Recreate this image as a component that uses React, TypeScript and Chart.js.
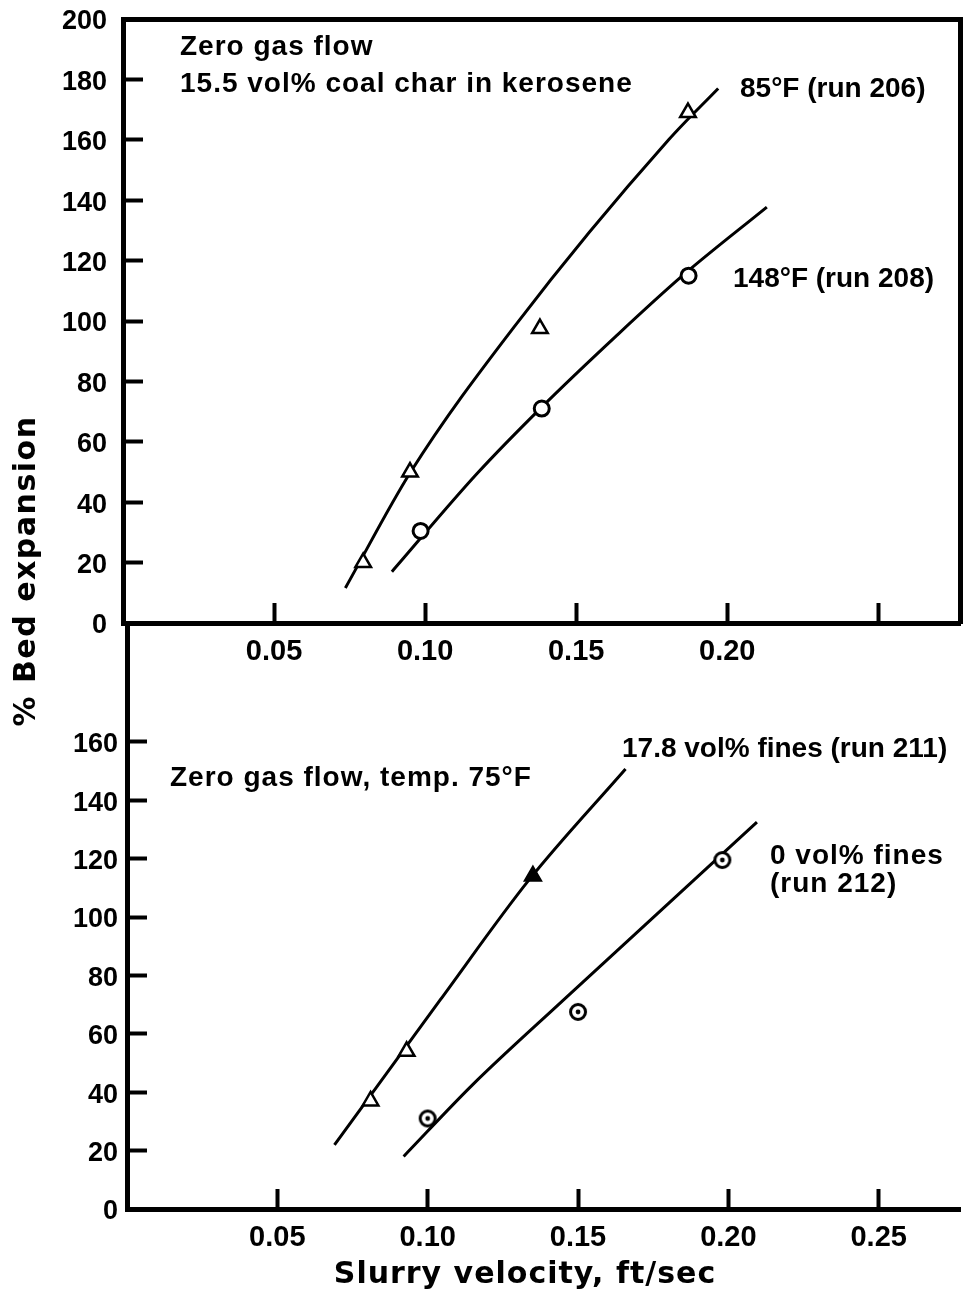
import React, { useEffect, useRef } from 'react';
import { Chart, registerables } from 'chart.js';

Chart.register(...registerables);

// ---- Axis ticks -----------------------------------------------------------
const xTickValues = [0.05, 0.1, 0.15, 0.2, 0.25];
const topXTickLabels = ['0.05', '0.10', '0.15', '0.20', ''];
const bottomXTickLabels = ['0.05', '0.10', '0.15', '0.20', '0.25'];
const topYTickValues = [0, 20, 40, 60, 80, 100, 120, 140, 160, 180, 200];
const bottomYTickValues = [0, 20, 40, 60, 80, 100, 120, 140, 160];

// ---- Upper panel: 15.5 vol% coal char in kerosene, zero gas flow ----------
// 85°F (run 206): measured points and fitted curve
const run206Velocity = [0.0795, 0.095, 0.138, 0.187];
const run206Expansion = [20, 50, 97.5, 169];
const run206CurveVelocity = [0.0736, 0.0952, 0.1294, 0.1806, 0.197];
const run206CurveExpansion = [11.6, 50, 98, 160, 177];

// 148°F (run 208)
const run208Velocity = [0.0985, 0.1386, 0.1872];
const run208Expansion = [30.5, 71, 115];
const run208CurveVelocity = [0.089, 0.1172, 0.1386, 0.1632, 0.1852, 0.2131];
const run208CurveExpansion = [17, 49.5, 71.5, 95, 115, 137.7];

// ---- Lower panel: zero gas flow, 75°F ------------------------------------
// 17.8 vol% fines (run 211)
const run211Velocity = [0.081, 0.093, 0.135];
const run211Expansion = [37, 54, 114];
const run211Filled = [false, false, true];
const run211CurveVelocity = [0.069, 0.1041, 0.1337, 0.1658];
const run211CurveExpansion = [22, 71.5, 112.7, 150.7];

// 0 vol% fines (run 212)
const run212Velocity = [0.1, 0.15, 0.198];
const run212Expansion = [31, 67.5, 119.5];
const run212CurveVelocity = [0.092, 0.1149, 0.1452, 0.2095];
const run212CurveExpansion = [18, 42.5, 71.6, 132.5];

// ---- Text ----------------------------------------------------------------
const yAxisTitle = '% Bed expansion';
const xAxisTitle = 'Slurry velocity, ft/sec';
const topCaption = ['Zero gas flow', '15.5 vol% coal char in kerosene'];
const run206Label = '85°F (run 206)';
const run208Label = '148°F (run 208)';
const bottomCaption = 'Zero gas flow, temp. 75°F';
const run211Label = '17.8 vol% fines (run 211)';
const run212Label = ['0 vol% fines', '(run 212)'];

// ---- Layout / style --------------------------------------------------------
const PAGE_W = 972;
const PAGE_H = 1297;
const X_MAX = 0.2772;
const INK = '#000';
const HELV = '"Liberation Sans", Arial, Helvetica, sans-serif';
const WIDE = '"DejaVu Sans", Verdana, sans-serif';
const NOTE_FONT = `bold 28px ${HELV}`;
const TITLE_FONT = `bold 30px ${WIDE}`;

type Note = {
  text: string;
  x: number;
  y: number;
  font: string;
  spacing?: number;
  align?: CanvasTextAlign;
  rotate?: number;
};

const topNotes: Note[] = [
  { text: topCaption[0], x: 180, y: 55, font: NOTE_FONT, spacing: 1 },
  { text: topCaption[1], x: 180, y: 92, font: NOTE_FONT, spacing: 1 },
  { text: run206Label, x: 740, y: 97, font: NOTE_FONT },
  { text: run208Label, x: 733, y: 287, font: NOTE_FONT },
  { text: yAxisTitle, x: 35, y: 571, font: TITLE_FONT, spacing: 1.5, align: 'center', rotate: -Math.PI / 2 },
];

const bottomNotes: Note[] = [
  { text: bottomCaption, x: 170, y: 786, font: NOTE_FONT, spacing: 1 },
  { text: run211Label, x: 622, y: 757, font: NOTE_FONT },
  { text: run212Label[0], x: 770, y: 864, font: NOTE_FONT, spacing: 1 },
  { text: run212Label[1], x: 770, y: 892, font: NOTE_FONT, spacing: 1 },
  { text: xAxisTitle, x: 525, y: 1283, font: TITLE_FONT, spacing: 1, align: 'center' },
];

function notesPlugin(id: string, notes: Note[]) {
  return {
    id,
    afterDraw(chart: Chart) {
      const ctx = chart.ctx;
      ctx.save();
      ctx.fillStyle = INK;
      ctx.textBaseline = 'alphabetic';
      for (const n of notes) {
        ctx.font = n.font;
        (ctx as any).letterSpacing = `${n.spacing ?? 0}px`;
        ctx.textAlign = n.align ?? 'left';
        if (n.rotate) {
          ctx.save();
          ctx.translate(n.x, n.y);
          ctx.rotate(n.rotate);
          ctx.fillText(n.text, 0, 0);
          ctx.restore();
        } else {
          ctx.fillText(n.text, n.x, n.y);
        }
      }
      (ctx as any).letterSpacing = '0px';
      ctx.restore();
    },
  };
}

function points(xs: number[], ys: number[]) {
  return xs.map((x, i) => ({ x, y: ys[i] }));
}

function dottedCircle(): HTMLCanvasElement {
  const c = document.createElement('canvas');
  c.width = 22;
  c.height = 22;
  const g = c.getContext('2d')!;
  g.beginPath();
  g.arc(11, 11, 7.5, 0, Math.PI * 2);
  g.fillStyle = '#fff';
  g.fill();
  g.lineWidth = 3;
  g.strokeStyle = INK;
  g.stroke();
  g.beginPath();
  g.arc(11, 11, 2.4, 0, Math.PI * 2);
  g.fillStyle = INK;
  g.fill();
  return c;
}

const tickGrid = {
  display: true,
  drawOnChartArea: false,
  drawTicks: true,
  tickLength: -20,
  tickWidth: 4,
  tickColor: INK,
  color: INK,
};
const axisBorder = { display: true, width: 5, color: INK };
const frameGrid = { display: true, drawOnChartArea: false, drawTicks: false };

// Fixed axis sizes so the plot areas sit where the layout wants them; the
// label paddings are cleared so they do not push the plot area inwards.
function fixSize(size: number) {
  return (s: any) => {
    if (s.isHorizontal()) s.height = size;
    else s.width = size;
    s.paddingTop = 0;
    s.paddingBottom = 0;
    s.paddingLeft = 0;
    s.paddingRight = 0;
  };
}

function xAxis(labels: string[], height: number) {
  return {
    type: 'linear' as const,
    position: 'bottom' as const,
    min: 0,
    max: X_MAX,
    afterBuildTicks: (s: any) => {
      s.ticks = xTickValues.map((v) => ({ value: v }));
    },
    afterFit: fixSize(height),
    ticks: {
      callback: (_v: any, i: number) => labels[i],
      font: { family: HELV, size: 29, weight: 'bold' as const },
      color: INK,
      padding: 32,
      maxRotation: 0,
      autoSkip: false,
    },
    grid: tickGrid,
    border: axisBorder,
  };
}

function yAxis(values: number[], max: number, width: number, padding: number) {
  return {
    type: 'linear' as const,
    position: 'left' as const,
    min: 0,
    max,
    afterBuildTicks: (s: any) => {
      s.ticks = values.map((v) => ({ value: v }));
    },
    afterFit: fixSize(width),
    ticks: {
      callback: (v: any) => String(v),
      font: { family: HELV, size: 27, weight: 'bold' as const },
      color: INK,
      padding,
      labelOffset: 3,
      autoSkip: false,
    },
    grid: tickGrid,
    border: axisBorder,
  };
}

function curve(xs: number[], ys: number[]) {
  return {
    data: points(xs, ys),
    showLine: true,
    pointRadius: 0,
    borderColor: INK,
    borderWidth: 3,
    cubicInterpolationMode: 'monotone' as const,
  };
}

function topConfig(): any {
  return {
    type: 'scatter',
    data: {
      datasets: [
        {
          data: points(run206Velocity, run206Expansion),
          pointStyle: 'triangle',
          pointRadius: 9,
          borderWidth: 2.5,
          borderColor: INK,
          backgroundColor: '#fff',
        },
        {
          data: points(run208Velocity, run208Expansion),
          pointStyle: 'circle',
          pointRadius: 7.5,
          borderWidth: 3,
          borderColor: INK,
          backgroundColor: '#fff',
        },
        curve(run206CurveVelocity, run206CurveExpansion),
        curve(run208CurveVelocity, run208CurveExpansion),
      ],
    },
    options: {
      animation: false,
      responsive: false,
      events: [],
      layout: { padding: { top: 19, left: 0, right: 6, bottom: PAGE_H - 623 - 40 } },
      plugins: { legend: { display: false }, tooltip: { enabled: false } },
      scales: {
        x: xAxis(topXTickLabels, 40),
        y: yAxis(topYTickValues, 200, 123, 36),
        xFrame: {
          type: 'linear',
          position: 'top',
          min: 0,
          max: X_MAX,
          ticks: { display: false },
          grid: frameGrid,
          border: axisBorder,
          afterFit: fixSize(0),
        },
        yFrame: {
          type: 'linear',
          position: 'right',
          min: 0,
          max: 200,
          ticks: { display: false },
          grid: frameGrid,
          border: axisBorder,
          afterFit: fixSize(0),
        },
      },
    },
    plugins: [notesPlugin('topNotes', topNotes)],
  };
}

function bottomConfig(): any {
  const marker = dottedCircle();
  return {
    type: 'scatter',
    data: {
      datasets: [
        {
          data: points(run211Velocity, run211Expansion),
          pointStyle: 'triangle',
          pointRadius: 9,
          borderWidth: 2.5,
          borderColor: INK,
          backgroundColor: run211Filled.map((f) => (f ? INK : '#fff')),
        },
        {
          data: points(run212Velocity, run212Expansion),
          pointStyle: marker,
          pointRadius: 8,
        },
        curve(run211CurveVelocity, run211CurveExpansion),
        curve(run212CurveVelocity, run212CurveExpansion),
      ],
    },
    options: {
      animation: false,
      responsive: false,
      events: [],
      layout: { padding: { top: 625, left: 0, right: 0, bottom: PAGE_H - 1209 - 40 } },
      plugins: { legend: { display: false }, tooltip: { enabled: false } },
      scales: {
        x: xAxis(bottomXTickLabels, 40),
        y: yAxis(bottomYTickValues, 200, 127, 29),
      },
    },
    plugins: [notesPlugin('bottomNotes', bottomNotes)],
  };
}

export default function App() {
  const topRef = useRef<HTMLCanvasElement>(null);
  const bottomRef = useRef<HTMLCanvasElement>(null);

  useEffect(() => {
    const upper = new Chart(topRef.current!, topConfig());
    const lower = new Chart(bottomRef.current!, bottomConfig());
    return () => {
      upper.destroy();
      lower.destroy();
    };
  }, []);

  const layer: React.CSSProperties = { position: 'absolute', left: 0, top: 0 };
  return (
    <div
      style={{
        position: 'absolute',
        left: 0,
        top: 0,
        width: PAGE_W,
        height: PAGE_H,
        background: '#fff',
        overflow: 'hidden',
      }}
    >
      <canvas ref={topRef} width={PAGE_W} height={PAGE_H} style={layer} />
      <canvas ref={bottomRef} width={PAGE_W} height={PAGE_H} style={layer} />
    </div>
  );
}
